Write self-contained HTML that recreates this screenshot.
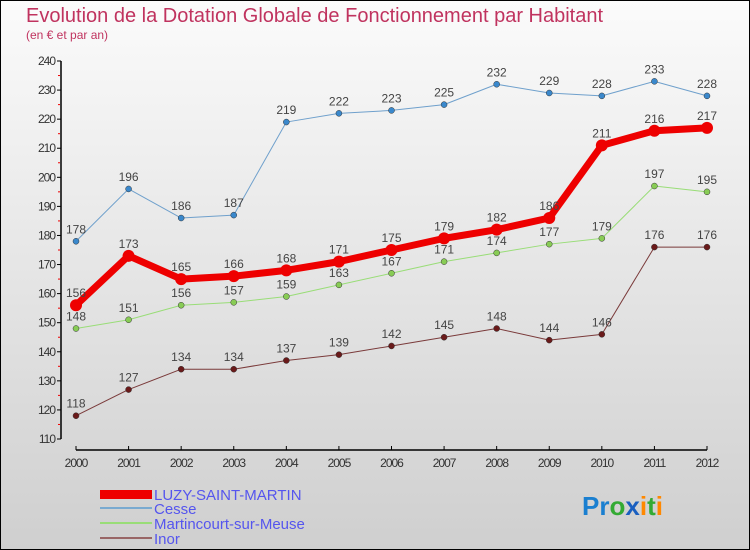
<!DOCTYPE html>
<html><head><meta charset="utf-8"><style>
body{margin:0}
#c{width:750px;height:550px;position:relative;box-sizing:border-box;border:1px solid #000;background:linear-gradient(#fbfbfb,#cfcfcf);overflow:hidden;font-family:"Liberation Sans",sans-serif}
</style></head><body>
<div id="c">
<svg id="s" width="750" height="550" style="position:absolute;left:-1px;top:-1px">
<text x="26" y="22" font-size="20" fill="#c0335f">Evolution de la Dotation Globale de Fonctionnement par Habitant</text>
<text x="26" y="39" font-size="12" fill="#c0335f">(en € et par an)</text>
<g id="g"></g>
<g>
<rect x="100" y="490" width="52" height="9" fill="#e00"/>
<text x="154" y="500" font-size="15" fill="#5555ee">LUZY-SAINT-MARTIN</text>
<rect x="100" y="507" width="52" height="2" fill="#7aaad0"/>
<text x="154" y="514" font-size="15" fill="#5555ee">Cesse</text>
<rect x="100" y="522" width="52" height="2" fill="#99dd77"/>
<text x="154" y="529" font-size="15" fill="#5555ee">Martincourt-sur-Meuse</text>
<rect x="100" y="537" width="52" height="2" fill="#996666"/>
<text x="154" y="544" font-size="15" fill="#5555ee">Inor</text>
</g>
<text x="582" y="515" font-size="26" font-weight="bold"><tspan fill="#1a7fd0">Pr</tspan><tspan fill="#33aa33">o</tspan><tspan fill="#1a5fc0">x</tspan><tspan fill="#ff8800">i</tspan><tspan fill="#33aa33">t</tspan><tspan fill="#ff8800">i</tspan></text>
</svg>
</div>
<script>
const years=[2000,2001,2002,2003,2004,2005,2006,2007,2008,2009,2010,2011,2012];
const yTicks=[110,120,130,140,150,160,170,180,190,200,210,220,230,240];
const luzy=[156,173,165,166,168,171,175,179,182,186,211,216,217];
const cesse=[178,196,186,187,219,222,223,225,232,229,228,233,228];
const martin=[148,151,156,157,159,163,167,171,174,177,179,197,195];
const inor=[118,127,134,134,137,139,142,145,148,144,146,176,176];
const X=i=>76+i*(707-76)/(years.length-1);
const Y=v=>439-(v-110)*(439-61)/130;
const g=document.getElementById('g');const NS='http://www.w3.org/2000/svg';
function mk(t,a,p){const e=document.createElementNS(NS,t);for(const k in a)e.setAttribute(k,a[k]);(p||g).appendChild(e);return e;}
let e=mk('line',{x1:61,y1:61,x2:61,y2:439,stroke:'#000','stroke-width':1.5});


yTicks.forEach(v=>{
 mk('line',{x1:57,y1:Y(v),x2:61,y2:Y(v),stroke:'#000'});
 if(v<240)mk('line',{x1:58,y1:Y(v+5),x2:60,y2:Y(v+5),stroke:'#e00'});
 const t=mk('text',{x:55,y:Y(v)+4,'font-size':12,'text-anchor':'end',fill:'#333','letter-spacing':'-1'});
 t.textContent=v;
 
 
});
e=mk('line',{x1:76,y1:450,x2:707,y2:450,stroke:'#000','stroke-width':1.5});


years.forEach((y,i)=>{
 mk('line',{x1:X(i),y1:446,x2:X(i),y2:450,stroke:'#000'});
 const t=mk('text',{x:X(i),y:467,'font-size':12,'text-anchor':'middle',fill:'#333','letter-spacing':'-1'});
 t.textContent=y;
 
 
});
function series(d,col,dot,w,r,name){
 const p=mk('polyline',{points:d.map((v,i)=>X(i)+','+Y(v)).join(' '),fill:'none',stroke:col,'stroke-width':w,'stroke-linejoin':'round'});
 
 
 d.forEach((v,i)=>{
  const c=mk('circle',{cx:X(i),cy:Y(v),r:r,fill:dot,stroke:w>3?'none':'#333','stroke-width':0.5});
  
  
  const t=mk('text',{x:X(i),y:Y(v)-8,'font-size':12,'text-anchor':'middle',fill:'#444'});
  t.textContent=v;
  
  
 });
}
series(inor,'#7a3a3a','#6a1a1a',1,3,'inor');
series(martin,'#99dd77','#88cc55',1,3,'martincourt');
series(cesse,'#6fa0cc','#3a88cc',1,3,'cesse');
series(luzy,'#ee0000','#ee0000',7,6,'luzy');
</script>
</body></html>
